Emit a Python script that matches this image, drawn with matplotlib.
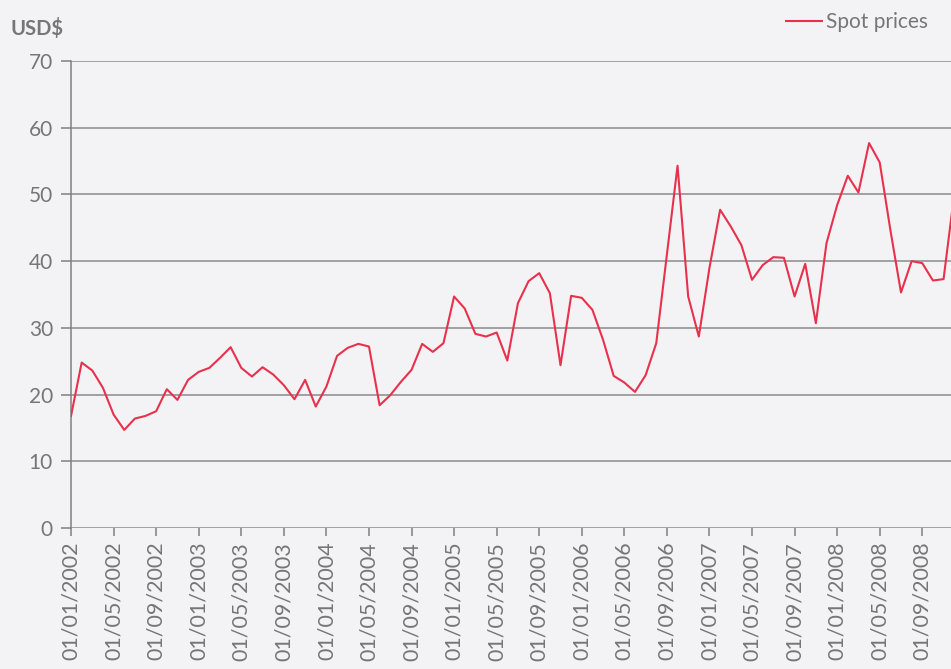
import matplotlib.pyplot as plt

# monthly spot prices, Jan 2002 onwards (USD$)
prices = [16.8, 24.8, 23.6, 21.0, 17.0, 14.7, 16.4, 16.8, 17.5, 20.8, 19.2, 22.2,
          23.4, 24.0, 25.5, 27.1, 24.0, 22.7, 24.1, 23.0, 21.4, 19.3, 22.2, 18.2,
          21.2, 25.8, 27.0, 27.6, 27.2, 18.4, 19.9, 21.9, 23.7, 27.6, 26.4, 27.7,
          34.7, 32.9, 29.1, 28.7, 29.3, 25.1, 33.7, 37.0, 38.2, 35.2, 24.4, 34.8,
          34.5, 32.7, 28.2, 22.8, 21.8, 20.4, 22.9, 27.7, 41.0, 54.3, 34.7, 28.7,
          39.0, 47.7, 45.2, 42.4, 37.2, 39.4, 40.6, 40.5, 34.7, 39.6, 30.7, 42.7,
          48.4, 52.8, 50.3, 57.7, 54.8, 44.7, 35.3, 40.0, 39.7, 37.1, 37.3, 50.0]

tick_labels = ["01/01/2002", "01/05/2002", "01/09/2002",
               "01/01/2003", "01/05/2003", "01/09/2003",
               "01/01/2004", "01/05/2004", "01/09/2004",
               "01/01/2005", "01/05/2005", "01/09/2005",
               "01/01/2006", "01/05/2006", "01/09/2006",
               "01/01/2007", "01/05/2007", "01/09/2007",
               "01/01/2008", "01/05/2008", "01/09/2008"]

y_ticks = [0, 10, 20, 30, 40, 50, 60, 70]

plt.rcParams['font.family'] = ['Lato', 'DejaVu Sans']
bg = '#f3f3f5'
grey = '#7f7f7f'
txt = '#767676'

fig = plt.figure(figsize=(9.51, 6.69), dpi=100, facecolor=bg)
ax = fig.add_axes([0.0747, 0.2108, 0.9253, 0.698])
ax.set_facecolor(bg)

months = list(range(len(prices)))
ax.plot(months, prices, color='#e8314c', lw=1.5, label='Spot prices', zorder=3)

ax.set_xlim(0, 82.7)
ax.set_ylim(0, 70)
ax.set_yticks(y_ticks)
ax.set_yticklabels([str(v) for v in y_ticks], fontsize=15, color=txt)
ax.set_xticks(range(0, 4 * len(tick_labels), 4))
ax.set_xticklabels(tick_labels, rotation=90, fontsize=15.5, color=txt)

ax.grid(axis='y', color='#8a8a8a', lw=1.1)
ax.set_axisbelow(True)
for s in ['top', 'right', 'bottom']:
  ax.spines[s].set_visible(False)
ax.spines['left'].set_color(grey)
ax.spines['left'].set_linewidth(1.1)
ax.tick_params(axis='y', direction='out', length=7, color=grey, width=1.1, pad=6)
ax.tick_params(axis='x', direction='out', length=6, color=grey, width=1.1, pad=4)

fig.text(0.011, 0.958, "USD$", fontsize=14.5, fontweight='bold', color=txt, va='center')
leg = fig.legend(loc='center right', bbox_to_anchor=(0.985, 0.967), frameon=False, fontsize=15,
                 labelcolor=txt, handlelength=1.75, handletextpad=0.2, borderaxespad=0)

fig.savefig("out.png", dpi=100, facecolor=bg)
